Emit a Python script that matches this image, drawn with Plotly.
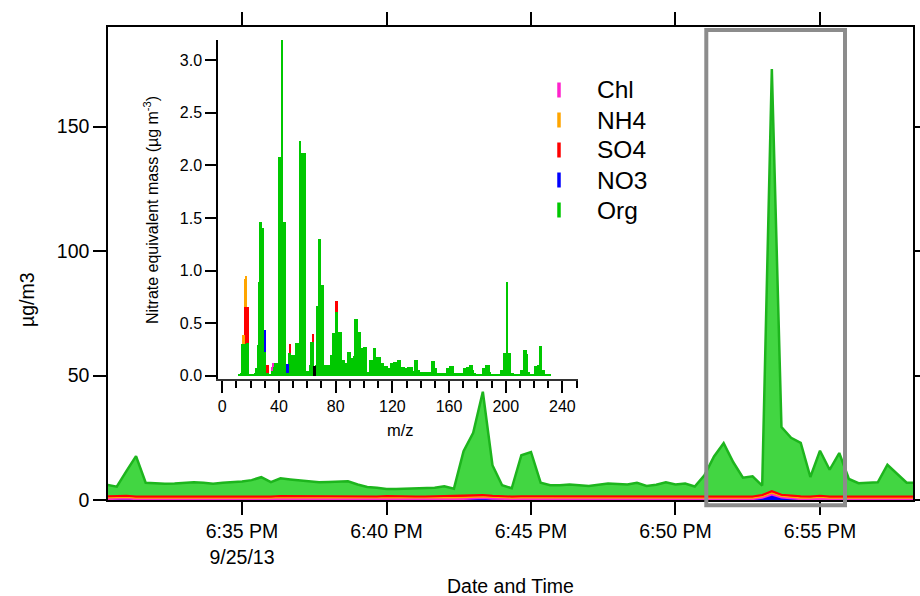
import plotly.graph_objects as go
import pandas as pd

# ---------------- time series (main panel) ----------------
TIME_START = "2013-09-25 18:30:20"
SAMPLE_FREQ = "20s"

ORG_TS = [4.6, 3.7, 9.9, 16.2, 5.5, 5.3, 5.1, 5.2, 5.5, 5.7,
          5.5, 5.1, 5.5, 5.6, 6.0, 6.5, 7.7, 5.7, 7.1, 6.7,
          6.5, 6.0, 5.7, 5.8, 5.9, 6.1, 4.8, 3.7, 3.5, 2.8,
          3.0, 3.1, 3.1, 3.3, 3.4, 4.1, 3.1, 18.0, 25.2, 41.5,
          12.3, 4.5, 3.3, 16.5, 17.8, 5.5, 4.5, 4.5, 4.8, 4.5,
          4.2, 4.7, 5.0, 5.0, 4.8, 5.5, 4.2, 4.7, 5.7, 4.8,
          5.2, 4.0, 8.5, 16.0, 21.3, 13.7, 7.5, 8.1, 3.8, 169.6,
          27.2, 23.3, 21.5, 7.8, 18.1, 10.7, 17.4, 7.0, 5.3, 5.5,
          5.7, 12.7, 8.8, 5.5, 5.5]
NO3_TS = [0.1, 0.3, 0.3, 0.1, 0.1, 0.1, 0.1, 0.1, 0.1, 0.1,
          0.1, 0.1, 0.1, 0.2, 0.1, 0.1, 0.1, 0.1, 0.25, 0.25,
          0.1, 0.1, 0.1, 0.1, 0.1, 0.1, 0.1, 0.2, 0.1, 0.25,
          0.1, 0.1, 0.1, 0.1, 0.2, 0.1, 0.1, 0.2, 0.4, 0.5,
          0.3, 0.1, 0.1, 0.1, 0.1, 0.1, 0.1, 0.1, 0.1, 0.1,
          0.1, 0.1, 0.3, 0.1, 0.1, 0.1, 0.1, 0.1, 0.1, 0.1,
          0.1, 0.1, 0.1, 0.1, 0.1, 0.1, 0.1, 0.1, 0.6, 1.9,
          0.7, 0.3, 0.1, 0.1, 0.3, 0.1, 0.1, 0.1, 0.1, 0.1,
          0.1, 0.1, 0.25, 0.1, 0.1]
CHL_TS = [0.45, 0.45, 0.46, 0.45, 0.44, 0.45, 0.45, 0.46, 0.45, 0.45,
          0.44, 0.45, 0.45, 0.45, 0.46, 0.45, 0.45, 0.44, 0.45, 0.45,
          0.45, 0.46, 0.45, 0.45, 0.45, 0.44, 0.45, 0.45, 0.45, 0.46,
          0.45, 0.45, 0.44, 0.45, 0.45, 0.45, 0.46, 0.45, 0.45, 0.47,
          0.45, 0.45, 0.44, 0.45, 0.45, 0.45, 0.46, 0.45, 0.45, 0.45,
          0.44, 0.45, 0.45, 0.45, 0.46, 0.45, 0.45, 0.44, 0.45, 0.45,
          0.45, 0.46, 0.45, 0.45, 0.45, 0.44, 0.45, 0.45, 0.45, 0.5,
          0.45, 0.45, 0.44, 0.45, 0.45, 0.45, 0.46, 0.45, 0.45, 0.45,
          0.44, 0.45, 0.45, 0.45, 0.45]
NH4_TS = [0.30, 0.30, 0.31, 0.30, 0.30, 0.29, 0.30, 0.30, 0.31, 0.30,
          0.30, 0.30, 0.29, 0.30, 0.30, 0.31, 0.30, 0.30, 0.30, 0.29,
          0.30, 0.30, 0.31, 0.30, 0.30, 0.30, 0.29, 0.30, 0.30, 0.31,
          0.30, 0.30, 0.30, 0.29, 0.30, 0.30, 0.31, 0.32, 0.33, 0.34,
          0.31, 0.30, 0.30, 0.31, 0.31, 0.30, 0.30, 0.29, 0.30, 0.30,
          0.31, 0.30, 0.30, 0.30, 0.29, 0.30, 0.30, 0.31, 0.30, 0.30,
          0.30, 0.29, 0.30, 0.31, 0.31, 0.30, 0.30, 0.30, 0.32, 0.40,
          0.33, 0.31, 0.30, 0.30, 0.31, 0.30, 0.30, 0.30, 0.29, 0.30,
          0.30, 0.31, 0.30, 0.30, 0.30]
SO4_TS = [0.60, 0.61, 0.62, 0.60, 0.59, 0.60, 0.60, 0.61, 0.60, 0.60,
          0.59, 0.60, 0.61, 0.60, 0.60, 0.62, 0.61, 0.60, 0.60, 0.59,
          0.60, 0.60, 0.61, 0.60, 0.60, 0.59, 0.58, 0.58, 0.57, 0.57,
          0.58, 0.58, 0.57, 0.58, 0.58, 0.59, 0.58, 0.62, 0.64, 0.66,
          0.61, 0.59, 0.58, 0.61, 0.62, 0.59, 0.58, 0.58, 0.58, 0.59,
          0.58, 0.58, 0.59, 0.58, 0.58, 0.59, 0.58, 0.58, 0.59, 0.58,
          0.58, 0.58, 0.60, 0.62, 0.63, 0.61, 0.60, 0.60, 0.62, 0.75,
          0.64, 0.63, 0.62, 0.60, 0.62, 0.60, 0.61, 0.60, 0.60, 0.60,
          0.60, 0.61, 0.60, 0.60, 0.60]

TIME_TICKS = ["2013-09-25 18:35", "2013-09-25 18:40", "2013-09-25 18:45",
              "2013-09-25 18:50", "2013-09-25 18:55"]
TIME_TICK_TEXT = ["6:35 PM<br>9/25/13", "6:40 PM", "6:45 PM", "6:50 PM", "6:55 PM"]
TIME_RANGE = ["2013-09-25 18:30:21.8", "2013-09-25 18:58:13.1"]
Y_TICKS = [0, 50, 100, 150]

# ---------------- mass spectrum (inset) ----------------
MZ_START = 12
ORG_MS = [
    0.02, 0.03, 0.30, 0.30, 0.30, 0.31, 0.31, 0.02, 0.01, 0.00,   # 12-21
    0.01, 0.03, 0.07, 0.29, 0.89, 1.46, 1.40, 1.40, 0.23, 0.10,   # 22-31
    0.03, 0.01, 0.02, 0.05, 0.08, 0.12, 0.12, 0.12, 2.08, 2.08,   # 32-41
    3.19, 1.46, 1.46, 0.03, 0.03, 0.22, 0.22, 0.20, 0.20, 0.20,   # 42-51
    0.31, 0.31, 0.31, 2.23, 2.12, 2.12, 2.12, 0.05, 0.05, 0.05,   # 52-61
    0.10, 0.32, 0.32, 0.00, 0.10, 0.66, 1.30, 1.30, 0.86, 0.86,   # 62-71
    0.10, 0.10, 0.10, 0.10, 0.10, 0.20, 0.41, 0.41, 0.61, 0.61,   # 72-81
    0.42, 0.42, 0.42, 0.15, 0.15, 0.12, 0.12, 0.23, 0.23, 0.17,   # 82-91
    0.17, 0.19, 0.54, 0.54, 0.42, 0.42, 0.06, 0.26, 0.27, 0.27,   # 92-101
    0.04, 0.04, 0.15, 0.15, 0.15, 0.26, 0.26, 0.18, 0.18, 0.18,   # 102-111
    0.12, 0.12, 0.09, 0.09, 0.09, 0.07, 0.07, 0.12, 0.12, 0.13,   # 112-121
    0.13, 0.13, 0.15, 0.15, 0.08, 0.08, 0.08, 0.07, 0.07, 0.08,   # 122-131
    0.08, 0.08, 0.08, 0.05, 0.15, 0.15, 0.06, 0.06, 0.04, 0.04,   # 132-141
    0.04, 0.04, 0.04, 0.04, 0.04, 0.04, 0.14, 0.14, 0.07, 0.07,   # 142-151
    0.03, 0.03, 0.03, 0.03, 0.03, 0.03, 0.03, 0.07, 0.07, 0.09,   # 152-161
    0.09, 0.09, 0.03, 0.03, 0.03, 0.03, 0.03, 0.03, 0.03, 0.07,   # 162-171
    0.07, 0.08, 0.08, 0.10, 0.10, 0.06, 0.03, 0.01, 0.01, 0.01,   # 172-181
    0.01, 0.01, 0.07, 0.07, 0.10, 0.10, 0.10, 0.04, 0.01, 0.01,   # 182-191
    0.01, 0.01, 0.01, 0.01, 0.01, 0.06, 0.06, 0.22, 0.22, 0.89,   # 192-201
    0.22, 0.22, 0.03, 0.03, 0.01, 0.01, 0.01, 0.01, 0.01, 0.06,   # 202-211
    0.06, 0.25, 0.25, 0.21, 0.04, 0.01, 0.01, 0.01, 0.01, 0.09,   # 212-221
    0.09, 0.10, 0.28, 0.28, 0.06, 0.06, 0.02, 0.02, 0.01, 0.01,   # 222-231
]
NO3_MZ, NO3_MS = [30, 46], [0.21, 0.08]
SO4_MZ, SO4_MS = [16, 17, 18, 32, 48, 64, 80, 81], [0.35, 0.34, 0.34, 0.07, 0.08, 0.08, 0.10, 0.10]
NH4_MZ, NH4_MS = [15, 16, 17], [0.09, 0.27, 0.30]
CHL_MZ, CHL_MS = [35, 36], [0.03, 0.04]
OTHER_MZ, OTHER_MS = [65], [0.09]

SPEC_X_TICKS = [0, 40, 80, 120, 160, 200, 240]

LEGEND_NAMES = ["Chl", "NH4", "SO4", "NO3", "Org"]

# ---------------- styling ----------------
FONT = "Liberation Sans, Arial, Helvetica, sans-serif"
C_CHL, C_NH4, C_SO4, C_NO3 = "#ff22cc", "#ffa500", "#ff0000", "#0000ff"
C_ORG_BAR, C_ORG_FILL, C_ORG_LINE = "#00c800", "#42d642", "#1db51d"
LEGEND_COLORS = [C_CHL, C_NH4, C_SO4, C_NO3, C_ORG_BAR]

W, H = 920, 596
ML, MR, MT, MB = 108, 7, 27, 96
PW, PH = W - ML - MR, H - MT - MB


def px(xpix):
    return (xpix - ML) / PW


def py(ypix):
    return (MT + PH - ypix) / PH


times = pd.date_range(TIME_START, periods=len(ORG_TS), freq=SAMPLE_FREQ)
mz = list(range(MZ_START, MZ_START + len(ORG_MS)))

fig = go.Figure()

# stacked time series
for vals, col, lw in [(NO3_TS, C_NO3, 1.5), (CHL_TS, C_CHL, 3),
                      (NH4_TS, C_NH4, 1.5), (SO4_TS, C_SO4, 2)]:
    fig.add_trace(go.Scatter(x=times, y=vals, mode="lines", stackgroup="ts",
                             line=dict(color=col, width=lw), fillcolor=col,
                             showlegend=False, hoverinfo="skip"))
fig.add_trace(go.Scatter(x=times, y=ORG_TS, mode="lines", stackgroup="ts",
                         line=dict(color=C_ORG_LINE, width=2.5), fillcolor=C_ORG_FILL,
                         showlegend=False))

# inset spectrum (stacked bars)
BW = 1.6
fig.add_trace(go.Bar(x=mz, y=ORG_MS, marker=dict(color=C_ORG_BAR, line=dict(width=0)),
                     width=BW, xaxis="x2", yaxis="y2", showlegend=False))
for xs, ys, col in [(NO3_MZ, NO3_MS, C_NO3), (SO4_MZ, SO4_MS, C_SO4),
                    (NH4_MZ, NH4_MS, C_NH4), (CHL_MZ, CHL_MS, C_CHL),
                    (OTHER_MZ, OTHER_MS, "#000000")]:
    fig.add_trace(go.Bar(x=xs, y=ys, marker=dict(color=col, line=dict(width=0)),
                         width=BW, xaxis="x2", yaxis="y2", showlegend=False))

axis_common = dict(showgrid=False, zeroline=False, showline=True, linecolor="black",
                   ticks="outside", tickcolor="black", automargin=False)

annotations = [
    dict(text="µg/m3", xref="paper", yref="paper", x=px(27), y=py(300),
         textangle=-90, showarrow=False, font=dict(size=19.5),
         xanchor="center", yanchor="middle"),
    dict(text="Date and Time", xref="paper", yref="paper", x=px(510), y=py(586),
         showarrow=False, font=dict(size=19.5), xanchor="center", yanchor="middle"),
    dict(text="Nitrate equivalent mass (µg m<sup>-3</sup>)", xref="paper", yref="paper",
         x=px(151), y=py(210), textangle=-90, showarrow=False, font=dict(size=16),
         xanchor="center", yanchor="middle"),
    dict(text="m/z", xref="paper", yref="paper", x=px(400), y=py(430),
         showarrow=False, font=dict(size=16.5), xanchor="center", yanchor="middle"),
]
shapes = [dict(type="rect", xref="paper", yref="paper", x0=px(706.3), x1=px(845),
               y0=py(505.3), y1=py(30), line=dict(color="#8c8c8c", width=4),
               fillcolor="rgba(0,0,0,0)", layer="above")]

# custom legend (text + short vertical colour bars)
for i, (name, col) in enumerate(zip(LEGEND_NAMES, LEGEND_COLORS)):
    yc = 90 + 30 * i
    annotations.append(dict(text=name, xref="paper", yref="paper", x=px(595), y=py(yc),
                            showarrow=False, font=dict(size=24.5),
                            xanchor="left", yanchor="middle"))
    shapes.append(dict(type="line", xref="paper", yref="paper", x0=px(559), x1=px(559),
                       y0=py(yc + 7.5), y1=py(yc - 7.5), line=dict(color=col, width=3.5)))

fig.update_layout(
    width=W, height=H,
    margin=dict(l=ML, r=MR, t=MT, b=MB, autoexpand=False),
    paper_bgcolor="white", plot_bgcolor="rgba(0,0,0,0)",
    font=dict(family=FONT, color="black", size=19.5),
    barmode="stack", bargap=0,
    showlegend=False,
    xaxis=dict(axis_common, type="date", range=TIME_RANGE, tickvals=TIME_TICKS,
               ticktext=TIME_TICK_TEXT, ticklen=13, tickwidth=1.5, linewidth=1.5,
               mirror="allticks", tickfont=dict(size=19.5), layer="below traces"),
    yaxis=dict(axis_common, range=[0, 190], tickvals=Y_TICKS, ticklen=13, tickwidth=1.5,
               linewidth=1.5, mirror="allticks", tickfont=dict(size=19.5)),
    xaxis2=dict(axis_common, domain=[px(218), px(578)], anchor="y2", range=[-3, 251],
                tickvals=SPEC_X_TICKS, ticklen=12, tickwidth=1.5, linewidth=2,
                linecolor="#333333", tickfont=dict(size=16),
                minor=dict(dtick=10, tick0=0, ticklen=7, tickwidth=1.5,
                           ticks="outside", tickcolor="black")),
    yaxis2=dict(axis_common, domain=[py(379), py(40)], anchor="x2", range=[-0.03, 3.19],
                dtick=0.5, tick0=0, tickformat=".1f", ticklen=11, tickwidth=1.5,
                linewidth=1.5, tickfont=dict(size=16)),
    annotations=annotations,
    shapes=shapes,
)

fig.write_html("out.html", config={"displayModeBar": False},
               post_script="document.body.style.margin='0px';")
